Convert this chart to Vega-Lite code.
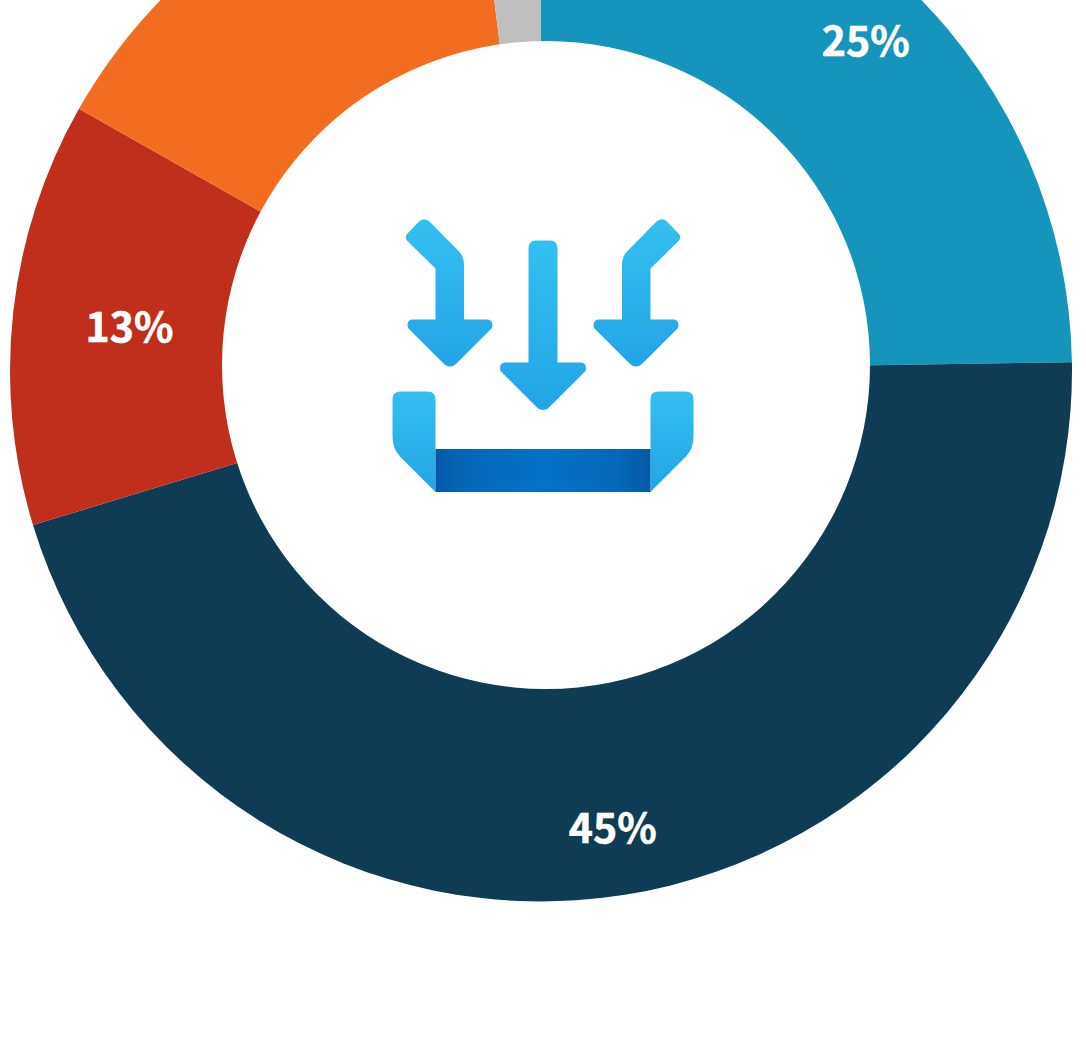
{"$schema":"https://vega.github.io/schema/vega-lite/v6.json","width":1082,"height":741,"autosize":"none","padding":{"left":0,"top":0,"right":4,"bottom":313},"background":"#ffffff","config":{"view":{"stroke":null}},"layer":[{"data":{"values":[{"segment":"Segment 1","order":1,"share":24.75,"label":"25%"},{"segment":"Segment 2","order":2,"share":45.55,"label":"45%"},{"segment":"Segment 3","order":3,"share":12.9,"label":"13%"},{"segment":"Segment 4","order":4,"share":14.8,"label":""},{"segment":"Segment 5","order":5,"share":2.0,"label":""}]},"encoding":{"theta":{"field":"share","type":"quantitative","stack":true,"scale":{"domain":[0,100],"range":[0,6.283185]}},"order":{"field":"order","type":"quantitative"}},"layer":[{"mark":{"type":"arc","radius":531,"radius2":0},"encoding":{"color":{"field":"segment","type":"nominal","legend":null,"scale":{"domain":["Segment 1","Segment 2","Segment 3","Segment 4","Segment 5"],"range":["#1595bc","#0e3c55","#bf2f1b","#f36d21","#bfbfbf"]}}}},{"mark":{"type":"text","radius":463,"yOffset":3.5,"font":"Noto Sans CJK SC","fontWeight":"bold","fontSize":41,"fill":"#ffffff","stroke":"#ffffff","strokeWidth":0.6},"encoding":{"text":{"condition":{"test":"datum.segment !== 'Segment 3'","field":"label"},"value":""}}},{"mark":{"type":"text","radius":413,"yOffset":5,"xOffset":-1,"font":"Noto Sans CJK SC","fontWeight":"bold","fontSize":41,"fill":"#ffffff","stroke":"#ffffff","strokeWidth":0.6},"encoding":{"text":{"condition":{"test":"datum.segment === 'Segment 3'","field":"label"},"value":""}}}]},{"data":{"values":[{"part":"hole"}]},"mark":{"type":"arc","theta":0,"theta2":6.283185,"radius":324,"radius2":0,"xOffset":5,"yOffset":-5.5,"fill":"#ffffff"},"encoding":{}},{"data":{"values":[{"part":"arrows"}]},"layer":[{"mark":{"type":"point","filled":true,"opacity":1,"size":4,"fill":{"gradient":"linear","x1":0,"y1":0,"x2":0,"y2":1,"stops":[{"offset":0,"color":"#34bff1"},{"offset":1,"color":"#22a4e7"}]},"shape":"M -133.5,-137 L -121.5,-149.5 Q -117,-153 -112,-149.5 L -82,-119 Q -77,-113.5 -77,-105.5 L -77,-51 L -53.5,-51 Q -47,-50 -49,-42.5 L -83,-8.5 Q -91,0.5 -99,-8.5 L -133,-42.5 Q -135,-50 -129,-51 L -105.5,-51 L -105.5,-102 L -133.5,-129.5 Q -137,-133.5 -133.5,-137 Z"},"encoding":{}},{"mark":{"type":"point","filled":true,"opacity":1,"size":4,"fill":{"gradient":"linear","x1":0,"y1":0,"x2":0,"y2":1,"stops":[{"offset":0,"color":"#34bff1"},{"offset":1,"color":"#22a4e7"}]},"shape":"M 137.5,-137 L 125.5,-149.5 Q 121,-153 116,-149.5 L 86,-119 Q 81,-113.5 81,-105.5 L 81,-51 L 57.5,-51 Q 51,-50 53,-42.5 L 87,-8.5 Q 95,0.5 103,-8.5 L 137,-42.5 Q 139,-50 133,-51 L 109.5,-51 L 109.5,-102 L 137.5,-129.5 Q 141,-133.5 137.5,-137 Z"},"encoding":{}},{"mark":{"type":"point","filled":true,"opacity":1,"size":4,"fill":{"gradient":"linear","x1":0,"y1":0,"x2":0,"y2":1,"stops":[{"offset":0,"color":"#34bff1"},{"offset":1,"color":"#22a4e7"}]},"shape":"M -12.5,-122 Q -12.5,-130 -5,-130 L 9,-130 Q 16.5,-130 16.5,-122 L 16.5,-8 L 40,-8 Q 46.5,-7 44.5,0.5 L 10,35 Q 2,44 -6,35 L -40.5,0.5 Q -42.5,-7 -36,-8 L -12.5,-8 Z"},"encoding":{}},{"mark":{"type":"point","filled":true,"opacity":1,"size":4,"fill":{"gradient":"linear","x1":0,"y1":0,"x2":0,"y2":1,"stops":[{"offset":0,"color":"#34bff1"},{"offset":1,"color":"#22a4e7"}]},"shape":"M -148.5,29 Q -148.5,21 -140.5,21 L -113.5,21 Q -105.5,21 -105.5,29 L -105.5,121.5 L -141,86 Q -148.5,78 -148.5,66 Z"},"encoding":{}},{"mark":{"type":"point","filled":true,"opacity":1,"size":4,"fill":{"gradient":"linear","x1":0,"y1":0,"x2":0,"y2":1,"stops":[{"offset":0,"color":"#34bff1"},{"offset":1,"color":"#22a4e7"}]},"shape":"M 152.5,29 Q 152.5,21 144.5,21 L 117.5,21 Q 109.5,21 109.5,29 L 109.5,121.5 L 145,86 Q 152.5,78 152.5,66 Z"},"encoding":{}},{"mark":{"type":"point","filled":true,"opacity":1,"size":4,"fill":{"gradient":"linear","x1":0,"y1":0,"x2":1,"y2":0,"stops":[{"offset":0,"color":"#0558a8"},{"offset":0.15,"color":"#0568b8"},{"offset":0.5,"color":"#0371c8"},{"offset":0.85,"color":"#0568b8"},{"offset":1,"color":"#0558a8"}]},"shape":"M -105.5,78.5 L 109.5,78.5 L 109.5,121.5 L -105.5,121.5 Z"},"encoding":{}}]}]}
